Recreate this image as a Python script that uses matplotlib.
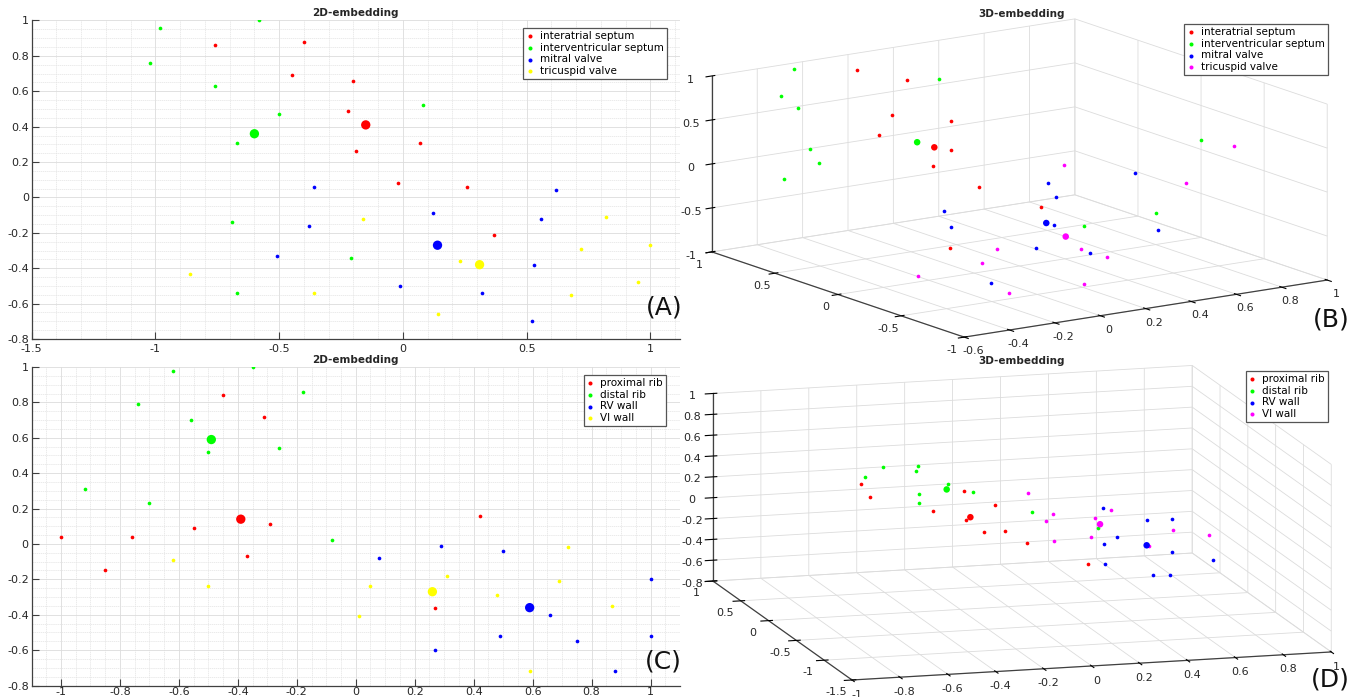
import matplotlib
matplotlib.use('Agg')
import matplotlib.pyplot as plt
from matplotlib.ticker import FuncFormatter, MultipleLocator

# ---- (A) 2D-embedding, heart structures ----
heart_labels = ['interatrial septum', 'interventricular septum', 'mitral valve', 'tricuspid valve']
a_ias_x = [-0.76, -0.40, -0.45, -0.20, -0.22, 0.07, -0.19, -0.02, 0.26, 0.37]
a_ias_y = [0.86, 0.88, 0.69, 0.66, 0.49, 0.31, 0.26, 0.08, 0.06, -0.21]
a_ivs_x = [-0.58, -0.98, -1.02, -0.76, -0.50, 0.08, -0.67, -0.69, -0.21, -0.67]
a_ivs_y = [1.00, 0.96, 0.76, 0.63, 0.47, 0.52, 0.31, -0.14, -0.34, -0.54]
a_mv_x = [-0.36, -0.38, -0.51, -0.01, 0.12, 0.32, 0.53, 0.52, 0.56, 0.62]
a_mv_y = [0.06, -0.16, -0.33, -0.50, -0.09, -0.54, -0.38, -0.70, -0.12, 0.04]
a_tv_x = [-0.86, -0.36, -0.16, 0.23, 0.14, 0.68, 0.72, 0.82, 0.95, 1.00]
a_tv_y = [-0.43, -0.54, -0.12, -0.36, -0.66, -0.55, -0.29, -0.11, -0.48, -0.27]
a_center_x = [-0.15, -0.60, 0.14, 0.31]
a_center_y = [0.41, 0.36, -0.27, -0.38]

# ---- (B) 3D-embedding, heart structures ----
b_ias_x = [0.04, 0.15, -0.14, 0.01, -0.31, -0.10, -0.18, -0.20, -0.04, -0.44]
b_ias_y = [1.0, 0.8, 0.4, 0.2, 0.2, 0.0, 0.0, -0.4, -0.6, -0.6]
b_ias_z = [0.81, 0.75, 0.66, 0.63, 0.60, 0.44, 0.29, 0.25, 0.06, -0.24]
b_ivs_x = [-0.24, -0.35, -0.33, 0.18, -0.39, -0.46, -0.45, 0.26, 0.89, 0.47]
b_ivs_y = [1.0, 0.9, 0.8, 0.6, 0.6, 0.4, 0.7, -0.4, -0.2, -0.6]
b_ivs_z = [0.93, 0.72, 0.62, 0.84, 0.28, 0.24, -0.09, -0.38, 0.25, -0.22]
b_mv_x = [0.71, 0.55, 0.47, -0.02, -0.10, 0.24, 0.05, 0.29, -0.37, 0.59]
b_mv_y = [0.0, 0.4, 0.2, 0.2, 0.0, -0.2, -0.4, -0.4, -0.8, -0.4]
b_mv_z = [-0.15, -0.39, -0.42, -0.38, -0.44, -0.45, -0.54, -0.70, -0.57, -0.55]
b_tv_x = [0.62, -0.01, 0.36, 0.25, -0.19, -0.47, 0.04, -0.29, 0.81, 0.60]
b_tv_y = [0.4, -0.2, -0.2, -0.6, -0.4, -0.4, -0.8, -0.8, -0.6, -0.6]
b_tv_z = [-0.22, -0.62, -0.78, -0.63, -0.61, -0.65, -0.75, -0.72, 0.41, 0.07]
b_center_x = [-0.12, -0.04, 0.24, 0.17]
b_center_y = [0.10, 0.38, -0.14, -0.42]
b_center_z = [0.43, 0.32, -0.46, -0.45]

# ---- (C) 2D-embedding, rib / wall ----
rib_labels = ['proximal rib', 'distal rib', 'RV wall', 'VI wall']
c_prox_x = [-0.45, -0.31, -0.55, -0.29, -1.00, -0.76, -0.85, -0.37, 0.42, 0.27]
c_prox_y = [0.84, 0.72, 0.09, 0.11, 0.04, 0.04, -0.15, -0.07, 0.16, -0.36]
c_dist_x = [-0.62, -0.35, -0.74, -0.56, -0.18, -0.50, -0.26, -0.92, -0.70, -0.08]
c_dist_y = [0.98, 1.00, 0.79, 0.70, 0.86, 0.52, 0.54, 0.31, 0.23, 0.02]
c_rv_x = [0.08, 0.29, 0.50, 0.27, 0.49, 0.66, 0.75, 0.88, 1.00, 1.00]
c_rv_y = [-0.08, -0.01, -0.04, -0.60, -0.52, -0.40, -0.55, -0.72, -0.20, -0.52]
c_vi_x = [-0.62, -0.50, 0.01, 0.05, 0.31, 0.48, 0.59, 0.69, 0.72, 0.87]
c_vi_y = [-0.09, -0.24, -0.41, -0.24, -0.18, -0.29, -0.72, -0.21, -0.02, -0.35]
c_center_x = [-0.39, -0.49, 0.59, 0.26]
c_center_y = [0.14, 0.59, -0.36, -0.27]

# ---- (D) 3D-embedding, rib / wall ----
d_prox_x = [-0.45, -0.46, -0.02, 0.06, -0.29, -0.20, -0.17, 0.01, 0.01, 0.17]
d_prox_y = [0.7, 0.5, 0.7, 0.5, 0.1, -0.1, -0.3, 0.1, -0.3, -0.7]
d_prox_z = [0.17, 0.12, 0.05, -0.02, 0.12, 0.10, 0.05, -0.11, -0.08, -0.15]
d_dist_x = [-0.36, -0.19, -0.27, -0.39, -0.18, -0.03, -0.35, -0.21, 0.17, 0.35]
d_dist_y = [0.7, 0.8, 0.5, 0.9, 0.3, 0.5, 0.1, 0.7, 0.3, -0.1]
d_dist_z = [0.32, 0.27, 0.35, 0.15, 0.29, 0.11, 0.29, -0.04, -0.03, -0.05]
d_rv_x = [0.51, 0.65, 0.80, 0.43, 0.33, 0.66, 0.24, 0.83, 0.44, 0.56]
d_rv_y = [0.5, 0.3, 0.5, -0.1, -0.3, -0.1, -0.7, -0.1, -0.7, -0.5]
d_rv_z = [-0.11, -0.17, -0.26, -0.15, -0.13, -0.33, -0.16, -0.43, -0.29, -0.38]
d_vi_x = [0.20, 0.21, 0.09, 0.50, 0.34, 0.23, 0.12, 0.71, 0.77, 0.47]
d_vi_y = [0.5, 0.1, -0.3, 0.3, -0.1, -0.5, -0.3, 0.1, -0.3, -0.5]
d_vi_z = [0.07, 0.02, 0.12, -0.05, 0.04, 0.03, -0.07, -0.20, -0.10, -0.09]
d_center_x = [-0.13, -0.15, 0.55, 0.36]
d_center_y = [0.12, 0.46, -0.12, -0.10]
d_center_z = [0.03, 0.17, -0.24, -0.02]

colors_2d = ['#ff0000', '#00ff00', '#0000ff', '#ffff00']
colors_3d = ['#ff0000', '#00ff00', '#0000ff', '#ff00ff']
txt = '#262626'
fmt = FuncFormatter(lambda v, pos: '%g' % round(v, 6))

plt.rcParams['font.family'] = 'DejaVu Sans'
fig = plt.figure(figsize=(13.52, 6.97), dpi=100)


def legend_at(ax, x, y):
    leg = ax.legend(loc='upper right', bbox_to_anchor=(x / 1352, 1 - y / 697),
                    bbox_transform=fig.transFigure, fontsize=7.5, fancybox=False,
                    edgecolor='#555555', framealpha=1, borderaxespad=0, borderpad=0.3,
                    handlelength=0.7, handletextpad=0.6, labelspacing=0.15, markerscale=1.1)
    leg.get_frame().set_linewidth(0.9)


def panel_2d(rect, xs, ys, cx, cy, labels, xlim, xstep, xminor, xpad, leg_xy):
    ax = fig.add_axes(rect)
    for x, y, lab, c in zip(xs, ys, labels, colors_2d):
        ax.scatter(x, y, s=7, color=c, linewidths=0, label=lab)
    ax.scatter(cx, cy, s=45, c=colors_2d, linewidths=0, zorder=3)
    ax.set_xlim(*xlim)
    ax.set_ylim(-0.8, 1)
    ax.xaxis.set_major_locator(MultipleLocator(xstep))
    ax.xaxis.set_minor_locator(MultipleLocator(xminor))
    ax.yaxis.set_major_locator(MultipleLocator(0.2))
    ax.yaxis.set_minor_locator(MultipleLocator(0.05))
    ax.xaxis.set_major_formatter(fmt)
    ax.yaxis.set_major_formatter(fmt)
    ax.grid(True, which='major', color='#dcdcdc', linewidth=0.6)
    ax.grid(True, which='minor', color='#e3e3e3', linewidth=0.5, linestyle=(0, (2, 1)))
    ax.set_axisbelow(True)
    for side in ('top', 'right'):
        ax.spines[side].set_visible(False)
    for side in ('left', 'bottom'):
        ax.spines[side].set_color('#404040')
        ax.spines[side].set_linewidth(0.9)
    ax.tick_params(direction='in', length=5, width=0.8, color='#404040', labelsize=8,
                   labelcolor=txt, pad=2)
    ax.tick_params(axis='x', pad=xpad)
    ax.tick_params(which='minor', length=0)
    ax.set_title('2D-embedding', fontsize=7.5, fontweight='bold', pad=3, color=txt)
    legend_at(ax, *leg_xy)
    return ax


def panel_3d(rect, xs, ys, zs, cx, cy, cz, labels, lims, steps, view, box, zoom, leg_xy):
    ax = fig.add_axes(rect, projection='3d', proj_type='ortho', computed_zorder=False)
    # let the 3D box stretch over the whole rectangle, as the original does
    ax.apply_aspect = lambda position=None: None
    for x, y, z, lab, c in zip(xs, ys, zs, labels, colors_3d):
        ax.scatter(x, y, z, s=7, color=c, linewidths=0, depthshade=False, label=lab)
    ax.scatter(cx, cy, cz, s=22, c=colors_3d, linewidths=0, depthshade=False)
    ax.set_xlim(*lims[0])
    ax.set_ylim(*lims[1])
    ax.set_zlim(*lims[2])
    for axis, st in zip((ax.xaxis, ax.yaxis, ax.zaxis), steps):
        axis.set_major_locator(MultipleLocator(st))
        axis.set_major_formatter(fmt)
        axis.set_pane_color((1, 1, 1, 0))
        axis.pane.set_edgecolor('#cfcfcf')
        axis._axinfo['grid'].update(color='#dcdcdc', linewidth=0.6)
        axis.line.set_color('#404040')
        axis.line.set_linewidth(0.9)
    ax.tick_params(labelsize=8, labelcolor=txt, pad=-2)
    ax.view_init(elev=view[0], azim=view[1])
    ax.set_box_aspect(box, zoom=zoom)
    legend_at(ax, *leg_xy)
    return ax


panel_2d([31.7 / 1352, 1 - 339 / 697, (680 - 31.7) / 1352, 318.5 / 697],
         [a_ias_x, a_ivs_x, a_mv_x, a_tv_x], [a_ias_y, a_ivs_y, a_mv_y, a_tv_y],
         a_center_x, a_center_y, heart_labels, (-1.5, 1.12), 0.5, 0.1, 3.5, (667, 28))

panel_2d([31.5 / 1352, 1 - 685.5 / 697, (680 - 31.5) / 1352, 318.5 / 697],
         [c_prox_x, c_dist_x, c_rv_x, c_vi_x], [c_prox_y, c_dist_y, c_rv_y, c_vi_y],
         c_center_x, c_center_y, rib_labels, (-1.1, 1.1), 0.2, 0.05, 1, (666, 375))

panel_3d([0.511, 0.5273, 0.4734, 0.4232],
         [b_ias_x, b_ivs_x, b_mv_x, b_tv_x], [b_ias_y, b_ivs_y, b_mv_y, b_tv_y],
         [b_ias_z, b_ivs_z, b_mv_z, b_tv_z], b_center_x, b_center_y, b_center_z,
         heart_labels, ((-0.6, 1), (-1, 1), (-1, 1)), (0.2, 0.5, 0.5),
         (30, -124.3), (1.270, 1.294, 1.274), 1.163, (1328, 24))

panel_3d([0.5129, 0.0224, 0.4734, 0.4433],
         [d_prox_x, d_dist_x, d_rv_x, d_vi_x], [d_prox_y, d_dist_y, d_rv_y, d_vi_y],
         [d_prox_z, d_dist_z, d_rv_z, d_vi_z], d_center_x, d_center_y, d_center_z,
         rib_labels, ((-1, 1), (-1.5, 1), (-0.8, 1)), (0.2, 0.5, 0.2),
         (25, -106), (1.441, 1.458, 1.239), 1.257, (1328, 371))

fig.text(1022 / 1352, 1 - 14 / 697, '3D-embedding', ha='center', va='center',
         fontsize=7.5, fontweight='bold', color=txt)
fig.text(1022 / 1352, 1 - 361 / 697, '3D-embedding', ha='center', va='center',
         fontsize=7.5, fontweight='bold', color=txt)

for label, x, y in [('(A)', 682, 308), ('(B)', 1350, 320), ('(C)', 682, 662), ('(D)', 1350, 679)]:
    fig.text(x / 1352, 1 - y / 697, label, ha='right', va='center', fontsize=18, color='#111111')

fig.savefig('out.png', dpi=100)
